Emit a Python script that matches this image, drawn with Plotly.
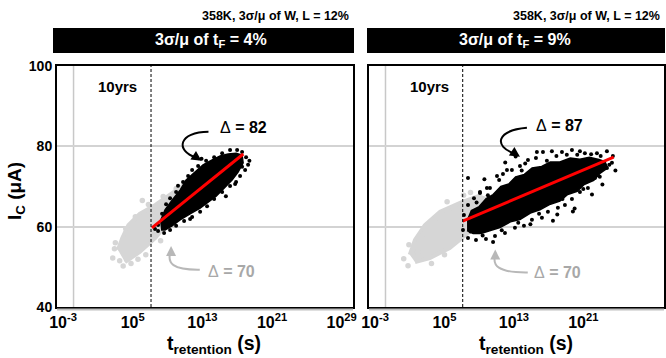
import plotly.graph_objects as go

# ---------------- data (x values are log10 of t_retention in seconds, y = I_C in uA) ----------------
x_tick_exponents = [-3, 5, 13, 21, 29]
y_ticks = [40, 60, 80, 100]
ten_years_exp = 7.1
grid_exp = -1.8

# left panel (3sigma/mu of tF = 4%)
left_grey_core_x = [3.3, 3.8, 4.5, 5.8, 7.6, 9.3, 10.7, 11.6, 10.4, 9.1, 7.6, 5.8, 4.1]
left_grey_core_y = [54.2, 57.2, 60.4, 63.2, 65.4, 67.9, 70.1, 69.1, 65.4, 61.2, 57.2, 53.7, 51.2]
left_grey_pts_x = [2.7, 3.5, 4.8, 6.5, 8.2, 3.0, 4.2, 5.3, 6.8, 8.5, 10.0, 7.0, 2.9, 3.9, 5.6, 9.6, 11.0, 6.1]
left_grey_pts_y = [52.2, 51.5, 50.8, 53.0, 56.5, 56.0, 59.5, 62.5, 65.5, 67.5, 69.5, 63.0, 54.5, 50.2, 51.9, 63.5, 71.0, 66.5]
left_black_core_x = [8.14, 8.71, 9.52, 10.44, 11.13, 12.16, 13.08, 14.12, 15.04, 15.96, 16.87, 17.56,
                     17.68, 17.10, 16.41, 15.49, 14.58, 13.66, 12.74, 11.59, 10.44, 9.52, 8.71, 8.25]
left_black_core_y = [61.2, 64.2, 66.6, 69.1, 71.6, 73.6, 75.4, 76.6, 77.6, 78.1, 78.3, 77.8,
                     75.9, 73.6, 71.6, 69.6, 67.6, 66.1, 64.6, 63.2, 61.7, 60.2, 59.2, 59.2]
left_black_pts_x = [7.91, 8.37, 8.83, 9.29, 9.98, 10.78, 11.36, 11.82, 12.51, 13.43, 14.35, 15.27, 16.18, 16.99,
                    17.56, 18.02, 18.25, 17.91, 17.33, 16.87, 16.18, 15.27, 14.35, 13.54, 12.74, 11.82, 10.90,
                    9.98, 9.29, 8.60, 7.91, 7.56, 16.76, 17.56, 11.59, 10.2, 12.9, 15.7, 18.4, 9.6]
left_black_pts_y = [60.4, 63.2, 65.6, 67.1, 68.6, 71.1, 72.6, 74.1, 75.1, 76.4, 77.3, 78.3, 79.1, 79.1,
                    78.6, 77.3, 75.4, 74.1, 72.6, 71.1, 70.1, 68.6, 66.9, 65.1, 63.7, 62.4, 61.4,
                    60.2, 59.2, 58.4, 58.9, 59.4, 70.6, 74.9, 61.9, 70.2, 76.9, 67.6, 76.4, 65.0]
left_fit_x = [7.2, 17.7]
left_fit_y = [59.7, 78.1]

# right panel (3sigma/mu of tF = 9%)
right_grey_core_x = [1.0, 1.6, 2.75, 4.5, 6.8, 8.9, 10.2, 9.7, 7.9, 5.6, 3.3, 1.6]
right_grey_core_y = [53.0, 56.7, 60.4, 63.7, 65.9, 67.6, 66.6, 62.9, 58.7, 54.7, 52.2, 51.2]
right_grey_pts_x = [0.3, 0.8, 1.9, 2.5, 4.0, 6.0, 8.0, 9.5, 10.8, 3.5, 5.0, 0.9, 7.2, 5.3]
right_grey_pts_y = [52.0, 50.3, 53.7, 58.0, 62.0, 64.5, 68.5, 65.0, 64.0, 50.8, 53.0, 55.5, 67.8, 66.2]
right_black_core_x = [7.6, 8.1, 9.0, 9.8, 10.6, 11.5, 12.4, 13.2, 14.2, 15.1, 16.2, 17.2, 18.3,
                      19.5, 20.6, 21.7, 22.8, 23.5, 23.8, 23.0, 22.2, 21.1, 20.3, 19.2, 18.3,
                      17.2, 16.0, 14.9, 13.7, 12.6, 11.4, 10.3, 9.2, 8.3, 7.6]
right_black_core_y = [61.4, 64.0, 65.0, 67.0, 68.0, 70.0, 70.6, 72.4, 73.0, 74.6, 75.0, 76.1, 76.1,
                      77.1, 76.8, 77.3, 76.7, 76.2, 74.6, 73.4, 71.5, 70.5, 68.8, 68.0, 66.4,
                      65.6, 64.2, 63.4, 61.8, 61.2, 59.8, 59.0, 58.3, 58.3, 59.0]
right_black_pts_x = [7.24, 7.71, 7.71, 8.40, 9.09, 9.89, 11.05, 11.74, 12.77, 13.70, 14.62, 15.54, 16.35, 17.38,
                     18.54, 19.69, 20.61, 21.18, 22.57, 23.72, 24.41, 24.30, 23.72, 22.68, 22.34, 21.53, 20.61,
                     19.69, 18.88, 18.07, 16.92, 16.23, 15.08, 14.16, 13.12, 11.97, 10.82, 9.78, 8.63, 7.71,
                     7.13, 7.94, 9.6, 12.0, 13.2, 20.0, 22.0, 17.5, 19.8, 23.2, 24.7, 10.6, 14.9, 18.0,
                     9.09, 10.24, 12.2, 15.65, 8.7, 11.3, 13.9, 16.8, 19.1, 21.9, 23.0, 24.0, 21.0, 18.6,
                     15.9, 13.5, 11.6, 9.4, 8.0, 10.0, 14.3, 17.9, 20.3, 22.9]
right_black_pts_y = [62.9, 65.4, 72.1, 67.1, 68.6, 69.6, 72.6, 73.1, 74.1, 75.1, 76.6, 77.1, 78.6, 78.8,
                     78.6, 79.1, 78.8, 78.3, 78.3, 78.8, 77.6, 75.9, 74.6, 73.6, 72.1, 69.6, 68.6,
                     66.9, 65.4, 64.7, 63.7, 62.2, 61.7, 60.2, 59.7, 58.4, 57.7, 56.9, 56.7, 57.2,
                     59.2, 60.2, 71.8, 76.0, 77.5, 64.5, 68.0, 61.5, 63.8, 70.5, 74.0, 56.2, 60.6, 63.0,
                     68.4, 69.6, 74.1, 78.6, 66.0, 71.6, 74.0, 76.4, 77.9, 78.0, 77.6, 75.4, 69.4, 66.9,
                     63.2, 61.0, 59.1, 57.8, 58.8, 67.8, 75.7, 77.6, 77.9, 72.4]
right_fit_x = [7.1, 24.5]
right_fit_y = [61.4, 77.3]

header_texts = ["3σ/μ of t<sub>F</sub> = 4%", "3σ/μ of t<sub>F</sub> = 9%"]
subtitle_text = "358K, 3σ/μ of W, L = 12%"
delta_black = ["82", "87"]
delta_grey = ["70", "70"]

# ---------------- figure ----------------
FONT = "Liberation Sans, Arial, sans-serif"
W, H = 666, 358
GREY = "#d6d6d6"
fig = go.Figure()

panels = [
    dict(xa="x", ya="y", gcx=left_grey_core_x, gcy=left_grey_core_y, gpx=left_grey_pts_x, gpy=left_grey_pts_y,
         bcx=left_black_core_x, bcy=left_black_core_y, bpx=left_black_pts_x, bpy=left_black_pts_y,
         fx=left_fit_x, fy=left_fit_y),
    dict(xa="x2", ya="y2", gcx=right_grey_core_x, gcy=right_grey_core_y, gpx=right_grey_pts_x, gpy=right_grey_pts_y,
         bcx=right_black_core_x, bcy=right_black_core_y, bpx=right_black_pts_x, bpy=right_black_pts_y,
         fx=right_fit_x, fy=right_fit_y),
]
for p in panels:
    fig.add_trace(go.Scatter(x=p["gcx"], y=p["gcy"], mode="lines", fill="toself", fillcolor=GREY,
                             line=dict(color=GREY, width=4), xaxis=p["xa"], yaxis=p["ya"], hoverinfo="skip"))
    fig.add_trace(go.Scatter(x=p["gpx"], y=p["gpy"], mode="markers", marker=dict(color=GREY, size=5.5),
                             xaxis=p["xa"], yaxis=p["ya"]))
    fig.add_trace(go.Scatter(x=p["bcx"], y=p["bcy"], mode="lines", fill="toself", fillcolor="black",
                             line=dict(color="black", width=1.5), xaxis=p["xa"], yaxis=p["ya"], hoverinfo="skip"))
    fig.add_trace(go.Scatter(x=p["bpx"], y=p["bpy"], mode="markers", marker=dict(color="black", size=4),
                             xaxis=p["xa"], yaxis=p["ya"]))
    fig.add_trace(go.Scatter(x=p["fx"], y=p["fy"], mode="lines", line=dict(color="red", width=3),
                             xaxis=p["xa"], yaxis=p["ya"]))

def px2x(px):
    return px / W

def py2y(py):
    return 1 - py / H

tick_text = [f"10<sup>{e}</sup>" for e in x_tick_exponents]
xcommon = dict(range=[-3.7, 30.3], tickvals=x_tick_exponents, ticktext=tick_text, showgrid=False,
               zeroline=False, showline=True, linecolor="black", linewidth=2, mirror=True, ticks="",
               tickfont=dict(family=FONT, size=16, color="black", weight="bold"))
ycommon = dict(range=[40, 100], tickvals=y_ticks, showgrid=True, gridcolor="#d3d3d3", gridwidth=1.5,
               zeroline=False, showline=True, linecolor="black", linewidth=2, mirror=True, ticks="",
               domain=[py2y(307), py2y(66)],
               tickfont=dict(family=FONT, size=14, color="black", weight="bold"))

fig.update_layout(
    width=W, height=H, autosize=False, margin=dict(l=0, r=0, t=0, b=0, autoexpand=False),
    paper_bgcolor="white", plot_bgcolor="white", showlegend=False,
    font=dict(family=FONT, color="black"),
    xaxis=dict(xcommon, domain=[px2x(57), px2x(353)], anchor="y", automargin=False),
    xaxis2=dict(xcommon, domain=[px2x(369), px2x(664)], anchor="y2", automargin=False),
    yaxis=dict(ycommon, anchor="x", automargin=False),
    yaxis2=dict(ycommon, anchor="x2", showticklabels=False, automargin=False),
)

CTR = dict(xanchor="center", yanchor="middle")
shapes = []
annotations = []
header_shift = [7, -1]
for i, (xa, ya) in enumerate([("x", "y"), ("x2", "y2")]):
    shapes.append(dict(type="line", xref=xa, yref=ya, x0=grid_exp, x1=grid_exp, y0=40, y1=100,
                       line=dict(color="#c8c8c8", width=1.5), layer="below"))
    shapes.append(dict(type="line", xref=xa, yref=ya, x0=ten_years_exp, x1=ten_years_exp, y0=40, y1=100,
                       line=dict(color="black", width=1, dash="3px,2px")))
    annotations.append(dict(xref=xa, yref=ya, x=3.3, y=95.0, text="<b>10yrs</b>", showarrow=False,
                            font=dict(size=15, family=FONT, color="black"), **CTR))
    dom = [57, 353] if i == 0 else [369, 664]
    shapes.append(dict(type="line", xref="paper", yref="paper", x0=px2x(dom[0]), x1=px2x(dom[1]),
                       y0=py2y(309.5), y1=py2y(309.5), line=dict(color="#bfbfbf", width=2)))
    bar = [53, 354] if i == 0 else [367, 665]
    shapes.append(dict(type="rect", xref="paper", yref="paper", x0=px2x(bar[0]), x1=px2x(bar[1]),
                       y0=py2y(53), y1=py2y(28), fillcolor="black", line=dict(width=0)))
    annotations.append(dict(xref="paper", yref="paper", x=px2x((bar[0] + bar[1]) / 2 + header_shift[i]),
                            y=py2y(40.5), text="<b>" + header_texts[i] + "</b>", showarrow=False,
                            font=dict(size=16, color="white", family=FONT), **CTR))
    annotations.append(dict(xref="paper", yref="paper", x=px2x(bar[1] - 3), y=py2y(16.5), xanchor="right",
                            yanchor="middle", text="<b>" + subtitle_text + "</b>", showarrow=False,
                            font=dict(size=12.5, color="black", family=FONT)))
    annotations.append(dict(xref="paper", yref="paper", x=px2x((dom[0] + dom[1]) / 2 + 9), y=py2y(344),
                            text="<b>t<sub>retention</sub> (s)</b>", showarrow=False,
                            font=dict(size=19.5, color="black", family=FONT), **CTR))

black_arrow = [
    dict(xa="x", ya="y", path="M 13.7,83.6 C 10.3,83.6 9.8,79.0 12.3,77.2", tip=(12.9, 76.4), tail=(-9, -6),
         tx=17.7, ty=84.8),
    dict(xa="x2", ya="y2", path="M 14.5,84.6 C 11.0,84.0 10.6,80.0 13.1,78.2", tip=(13.7, 77.4), tail=(-9, -6),
         tx=18.3, ty=85.3),
]
grey_arrow = [
    dict(xa="x", ya="y", path="M 12.7,49.3 C 9.5,49.2 9.0,51.0 9.3,53.5", tip=(9.4, 55.2), tail=(0, 9),
         tx=16.4, ty=48.8),
    dict(xa="x2", ya="y2", path="M 14.6,48.6 C 11.0,48.5 10.6,50.5 10.8,52.7", tip=(10.85, 54.3), tail=(0, 9),
         tx=18.0, ty=48.6),
]
for j, a in enumerate(black_arrow):
    shapes.append(dict(type="path", xref=a["xa"], yref=a["ya"], path=a["path"],
                       line=dict(color="black", width=2)))
    annotations.append(dict(xref=a["xa"], yref=a["ya"], x=a["tip"][0], y=a["tip"][1], ax=a["tail"][0],
                            ay=a["tail"][1], text="", showarrow=True, arrowhead=2, arrowsize=1, arrowwidth=2,
                            arrowcolor="black"))
    annotations.append(dict(xref=a["xa"], yref=a["ya"], x=a["tx"], y=a["ty"],
                            text="Δ<b> = " + delta_black[j] + "</b>", showarrow=False,
                            font=dict(size=16, color="black", family=FONT), **CTR))
for j, a in enumerate(grey_arrow):
    shapes.append(dict(type="path", xref=a["xa"], yref=a["ya"], path=a["path"],
                       line=dict(color="#b8b8b8", width=2)))
    annotations.append(dict(xref=a["xa"], yref=a["ya"], x=a["tip"][0], y=a["tip"][1], ax=a["tail"][0],
                            ay=a["tail"][1], text="", showarrow=True, arrowhead=2, arrowsize=1, arrowwidth=2,
                            arrowcolor="#b8b8b8"))
    annotations.append(dict(xref=a["xa"], yref=a["ya"], x=a["tx"], y=a["ty"],
                            text="Δ<b> = " + delta_grey[j] + "</b>", showarrow=False,
                            font=dict(size=16, color="#a8a8a8", family=FONT), **CTR))

annotations.append(dict(xref="paper", yref="paper", x=px2x(16), y=py2y(191), textangle=-90,
                        text="<b>I<sub>C</sub> (μA)</b>", showarrow=False,
                        font=dict(size=19, color="black", family=FONT), **CTR))

fig.update_layout(shapes=shapes, annotations=annotations)
fig.write_html("out.html", config={"displayModeBar": False},
               post_script="document.body.style.margin='0px';")
